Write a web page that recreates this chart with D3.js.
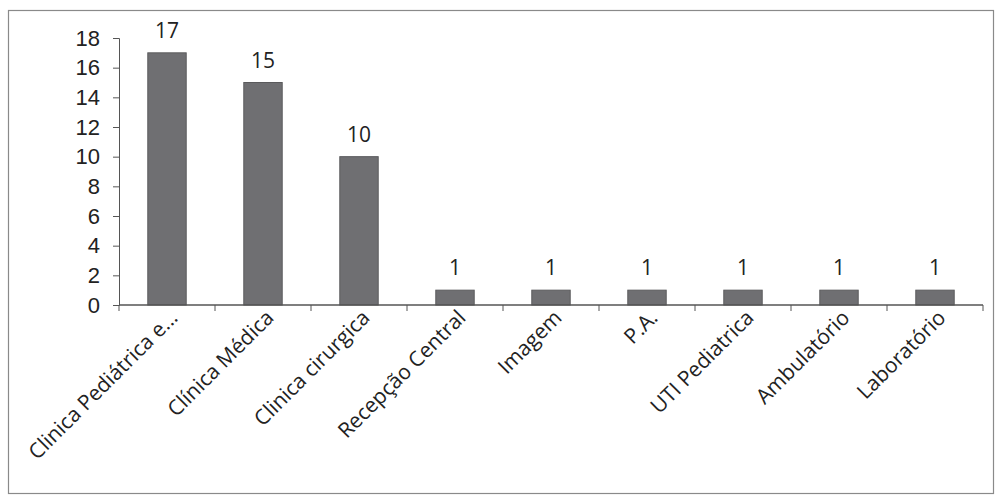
<!DOCTYPE html>
<html>
<head>
<meta charset="utf-8">
<script src="https://cdn.jsdelivr.net/npm/d3@7"></script>
<style>
  body { margin: 0; background: #fff; }
  svg { display: block; font-family: "Open Sans", "Noto Sans", sans-serif; }
</style>
</head>
<body>
<svg width="1000" height="497"></svg>
<script>
// dados
var categories = ["Clinica Pediátrica e...", "Clínica Médica", "Clinica cirurgica", "Recepção Central",
    "Imagem", "P.A.", "UTI Pediatrica", "Ambulatório", "Laboratório"];
var values = [17, 15, 10, 1, 1, 1, 1, 1, 1];
var yTicks = [0, 2, 4, 6, 8, 10, 12, 14, 16, 18];

var margin = {top: 38, right: 17, bottom: 192, left: 119},
    width = 1000 - margin.left - margin.right,
    height = 497 - margin.top - margin.bottom;

var svg = d3.select("svg");

// moldura
svg.append("rect")
    .attr("x", 8.5).attr("y", 10.5)
    .attr("width", 985).attr("height", 483)
    .attr("fill", "none")
    .attr("stroke", "#8a8a8a")
    .attr("stroke-width", 1.2);

var g = svg.append("g")
    .attr("transform", "translate(" + margin.left + "," + margin.top + ")");

var x = d3.scaleBand().domain(categories).range([0, width]).paddingInner(0.6).paddingOuter(0.3);
var xTick = d3.scaleBand().domain(categories).range([0, width]);
var y = d3.scaleLinear().domain([0, 18]).range([height, 0]);

// eixo Y
var yAxis = g.append("g")
    .call(d3.axisLeft(y).tickValues(yTicks).tickSize(6).tickPadding(13));
yAxis.select(".domain").attr("stroke", "#555");
yAxis.selectAll(".tick line").attr("stroke", "#555");
yAxis.selectAll("text")
    .attr("font-size", 22)
    .attr("fill", "#222");

// barras
g.selectAll(".bar")
    .data(values)
    .enter().append("rect")
    .attr("class", "bar")
    .attr("x", function (d, i) { return x(categories[i]); })
    .attr("width", x.bandwidth())
    .attr("y", function (d) { return y(d); })
    .attr("height", function (d) { return height - y(d); })
    .attr("fill", "#6f6f72")
    .attr("stroke", "#5a5a5c")
    .attr("stroke-width", 1);

// rótulos de valor
g.selectAll(".label")
    .data(values)
    .enter().append("text")
    .attr("class", "label")
    .attr("x", function (d, i) { return x(categories[i]) + x.bandwidth() / 2; })
    .attr("y", function (d) { return y(d) - 15; })
    .attr("text-anchor", "middle")
    .attr("font-size", 21)
    .attr("fill", "#222")
    .text(function (d) { return d; });

// eixo X
g.append("line")
    .attr("x1", 0).attr("x2", width)
    .attr("y1", height).attr("y2", height)
    .attr("stroke", "#555").attr("stroke-width", 1.5);

g.selectAll(".xtick")
    .data(categories.concat(["end"]))
    .enter().append("line")
    .attr("class", "xtick")
    .attr("x1", function (d, i) { return i * xTick.step(); })
    .attr("x2", function (d, i) { return i * xTick.step(); })
    .attr("y1", height).attr("y2", height + 6)
    .attr("stroke", "#555");

g.selectAll(".xlabel")
    .data(categories)
    .enter().append("text")
    .attr("class", "xlabel")
    .attr("transform", function (d) {
        return "translate(" + (xTick(d) + xTick.bandwidth() / 2 + 12) + "," + (height + 14) + ") rotate(-45)";
    })
    .attr("text-anchor", "end")
    .attr("font-size", 21)
    .attr("fill", "#222")
    .text(function (d) { return d; });
</script>
</body>
</html>
